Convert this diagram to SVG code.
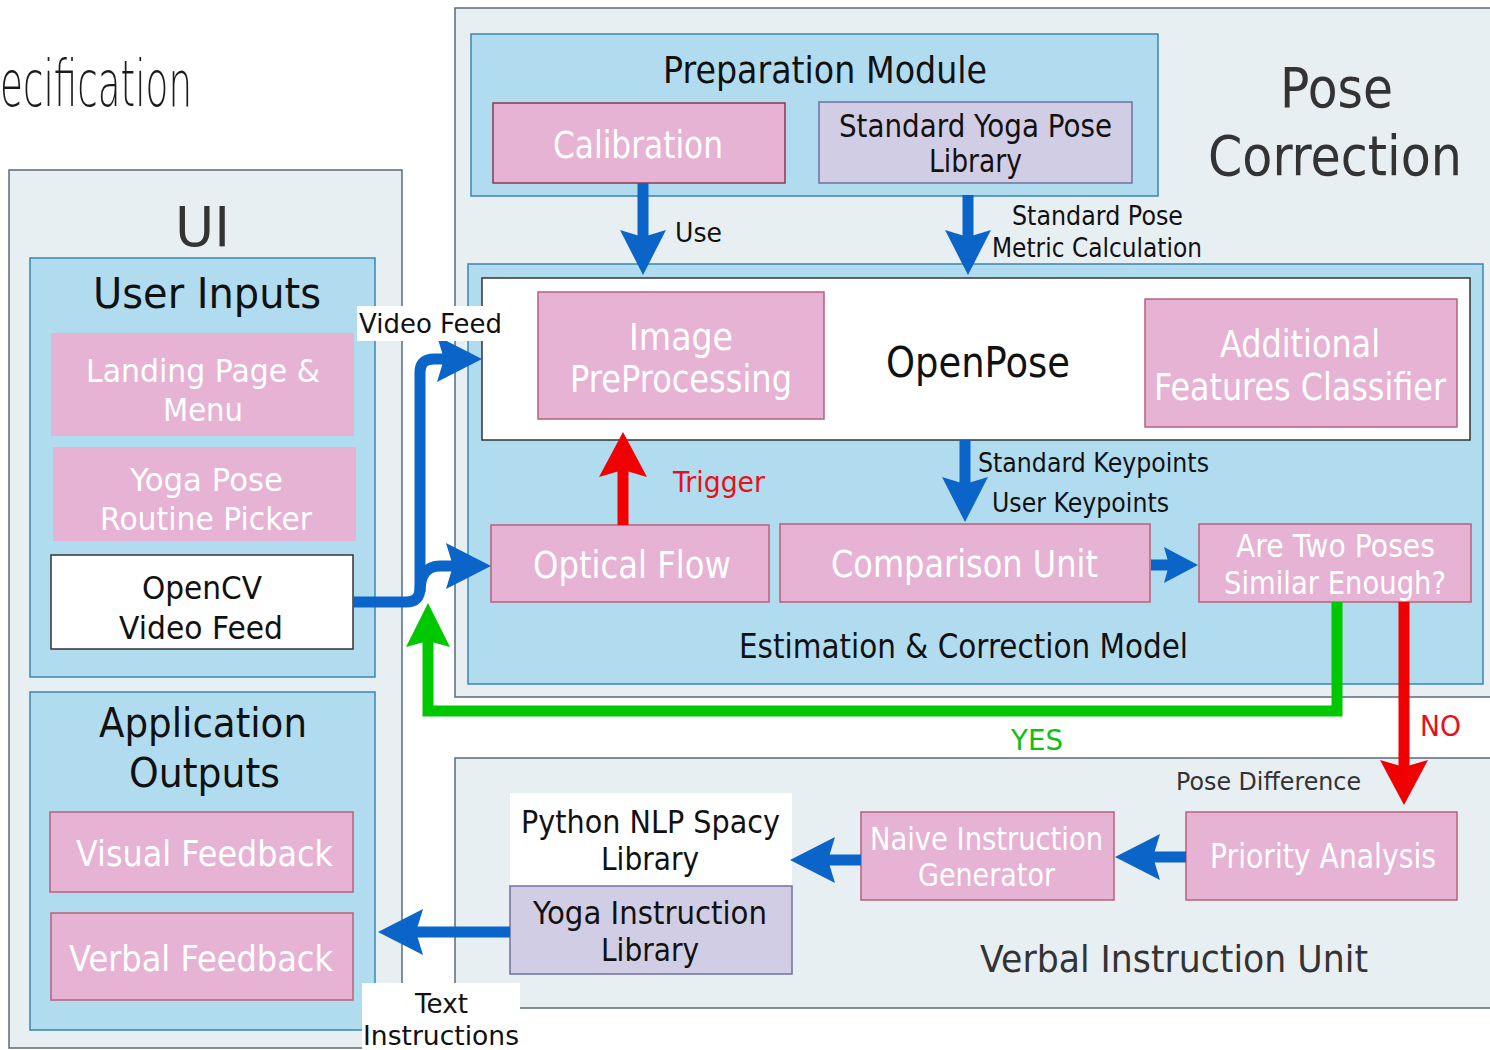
<svg xmlns="http://www.w3.org/2000/svg" width="1490" height="1050" viewBox="0 0 1490 1050">
<style>
text{font-family:'DejaVu Sans','Liberation Sans',sans-serif;fill:#111}
.cond{font-family:'DejaVu Sans Condensed','DejaVu Sans',sans-serif;font-stretch:condensed}
.gray{fill:#e8eff3;stroke:#5b6b78;stroke-width:1.5}
.blue{fill:#b1dcef;stroke:#3b86b0;stroke-width:1.5}
.pink{fill:#e6b3d4;stroke:#b8607a;stroke-width:1.5}
.pinkn{fill:#e6b3d4;stroke:none}
.lav{fill:#d1cde4;stroke:#7070a0;stroke-width:1.5}
.white{fill:#fff;stroke:#333;stroke-width:1.5}
.wt{fill:#fff}
.dk{fill:#333}
.cb{fill:none;stroke:#0b64c8;stroke-width:11}
.cr{fill:none;stroke:#f00000;stroke-width:11}
.cg{fill:none;stroke:#00c800;stroke-width:11}
</style>
<defs>
<marker id="ab" markerUnits="userSpaceOnUse" markerWidth="46" markerHeight="46" refX="7" refY="23" orient="auto"><path d="M0,0 L45,23 L0,46 L7,23 z" fill="#0b64c8"/></marker>
<marker id="abs" markerUnits="userSpaceOnUse" markerWidth="36" markerHeight="36" refX="5" refY="18" orient="auto"><path d="M0,0 L34,18 L0,36 L5,18 z" fill="#0b64c8"/></marker>
<marker id="ar" markerUnits="userSpaceOnUse" markerWidth="48" markerHeight="48" refX="7" refY="24" orient="auto"><path d="M0,0 L45,24 L0,48 L7,24 z" fill="#f00000"/></marker>
<marker id="ag" markerUnits="userSpaceOnUse" markerWidth="44" markerHeight="44" refX="6" refY="22" orient="auto"><path d="M0,0 L44,22 L0,44 L6,22 z" fill="#00c800"/></marker>
</defs>
<rect width="1490" height="1050" fill="#fff"/>
<text x="0" y="106" font-size="64" font-weight="200" textLength="192" lengthAdjust="spacingAndGlyphs" style="fill:#1a1a1a">ecification</text>

<g id="ui">
<rect class="gray" x="9" y="170" width="393" height="878"/>
<text class="dk" x="175" y="246" font-size="56" textLength="55" lengthAdjust="spacingAndGlyphs">UI</text>
</g>
<g id="user-inputs">
<rect class="blue" x="30" y="258" width="345" height="419"/>
<text x="93" y="308" font-size="42" textLength="228" lengthAdjust="spacingAndGlyphs">User Inputs</text>
</g>
<g id="landing">
<rect class="pinkn" x="51" y="333" width="303" height="103"/>
<text class="wt" x="86" y="382" font-size="32" textLength="234" lengthAdjust="spacingAndGlyphs">Landing Page &amp;</text>
<text class="wt" x="163" y="421" font-size="32" textLength="80" lengthAdjust="spacingAndGlyphs">Menu</text>
</g>
<g id="routine-picker">
<rect class="pinkn" x="53" y="447" width="303" height="94"/>
<text class="wt" x="130" y="491" font-size="32" textLength="153" lengthAdjust="spacingAndGlyphs">Yoga Pose</text>
<text class="wt" x="100" y="530" font-size="32" textLength="212" lengthAdjust="spacingAndGlyphs">Routine Picker</text>
</g>
<g id="opencv">
<rect class="white" x="51" y="555" width="302" height="94"/>
<text x="142" y="599" font-size="32" textLength="120" lengthAdjust="spacingAndGlyphs">OpenCV</text>
<text x="119" y="639" font-size="32" textLength="164" lengthAdjust="spacingAndGlyphs">Video Feed</text>
</g>
<g id="app-outputs">
<rect class="blue" x="30" y="692" width="345" height="338"/>
<text x="99" y="737" font-size="41" textLength="208" lengthAdjust="spacingAndGlyphs">Application</text>
<text x="129" y="787" font-size="41" textLength="151" lengthAdjust="spacingAndGlyphs">Outputs</text>
</g>
<g id="visual-feedback">
<rect class="pink" x="50" y="812" width="303" height="80"/>
<text class="wt" x="76" y="866" font-size="36" textLength="257" lengthAdjust="spacingAndGlyphs">Visual Feedback</text>
</g>
<g id="verbal-feedback">
<rect class="pink" x="51" y="913" width="302" height="87"/>
<text class="wt" x="69" y="971" font-size="36" textLength="264" lengthAdjust="spacingAndGlyphs">Verbal Feedback</text>
</g>

<g id="pose-correction">
<rect class="gray" x="455" y="8" width="1045" height="689"/>
<text class="dk" x="1280" y="107" font-size="56" textLength="113" lengthAdjust="spacingAndGlyphs">Pose</text>
<text class="dk cond" x="1208" y="175" font-size="56" textLength="254" lengthAdjust="spacingAndGlyphs">Correction</text>
</g>
<g id="preparation">
<rect class="blue" x="471" y="34" width="687" height="162"/>
<text x="663" y="83" font-size="38" textLength="324" lengthAdjust="spacingAndGlyphs">Preparation Module</text>
</g>
<g id="calibration">
<rect class="pink" x="493" y="103" width="292" height="80" style="stroke:#8b3a4a"/>
<text class="wt" x="553" y="158" font-size="37" textLength="170" lengthAdjust="spacingAndGlyphs">Calibration</text>
</g>
<g id="std-library">
<rect class="lav" x="819" y="102" width="313" height="81"/>
<text x="839" y="137" font-size="32" textLength="273" lengthAdjust="spacingAndGlyphs">Standard Yoga Pose</text>
<text x="929" y="172" font-size="32" textLength="93" lengthAdjust="spacingAndGlyphs">Library</text>
</g>
<g id="estimation">
<rect class="blue" x="468" y="264" width="1015" height="420"/>
<text x="739" y="658" font-size="34" textLength="449" lengthAdjust="spacingAndGlyphs">Estimation &amp; Correction Model</text>
</g>
<g id="openpose">
<rect class="white" x="482" y="278" width="988" height="162"/>
<text x="886" y="377" font-size="42" textLength="184" lengthAdjust="spacingAndGlyphs">OpenPose</text>
</g>
<g id="image-preprocessing">
<rect class="pink" x="538" y="292" width="286" height="127"/>
<text class="wt" x="629" y="350" font-size="37" textLength="104" lengthAdjust="spacingAndGlyphs">Image</text>
<text class="wt" x="570" y="392" font-size="37" textLength="222" lengthAdjust="spacingAndGlyphs">PreProcessing</text>
</g>
<g id="additional-features">
<rect class="pink" x="1145" y="299" width="312" height="128"/>
<text class="wt" x="1220" y="357" font-size="37" textLength="160" lengthAdjust="spacingAndGlyphs">Additional</text>
<text class="wt cond" x="1154" y="400" font-size="37" textLength="292" lengthAdjust="spacingAndGlyphs">Features Classifier</text>
</g>
<g id="optical-flow">
<rect class="pink" x="491" y="525" width="278" height="77"/>
<text class="wt" x="533" y="578" font-size="37" textLength="198" lengthAdjust="spacingAndGlyphs">Optical Flow</text>
</g>
<g id="comparison">
<rect class="pink" x="780" y="524" width="370" height="78"/>
<text class="wt" x="831" y="577" font-size="37" textLength="267" lengthAdjust="spacingAndGlyphs">Comparison Unit</text>
</g>
<g id="similar">
<rect class="pink" x="1199" y="524" width="272" height="78"/>
<text class="wt" x="1236" y="557" font-size="32" textLength="199" lengthAdjust="spacingAndGlyphs">Are Two Poses</text>
<text class="wt" x="1224" y="594" font-size="32" textLength="222" lengthAdjust="spacingAndGlyphs">Similar Enough?</text>
</g>

<g id="verbal-unit">
<rect class="gray" x="455" y="758" width="1045" height="250"/>
<text class="dk" x="980" y="972" font-size="38" textLength="388" lengthAdjust="spacingAndGlyphs">Verbal Instruction Unit</text>
</g>
<g id="priority">
<rect class="pink" x="1186" y="812" width="271" height="88"/>
<text class="wt" x="1210" y="868" font-size="34" textLength="226" lengthAdjust="spacingAndGlyphs">Priority Analysis</text>
</g>
<g id="naive">
<rect class="pink" x="861" y="812" width="253" height="88"/>
<text class="wt" x="870" y="850" font-size="32" textLength="233" lengthAdjust="spacingAndGlyphs">Naive Instruction</text>
<text class="wt" x="918" y="886" font-size="32" textLength="137" lengthAdjust="spacingAndGlyphs">Generator</text>
</g>
<g id="spacy">
<rect x="510" y="793" width="282" height="93" fill="#fff"/>
<text x="521" y="833" font-size="32" textLength="259" lengthAdjust="spacingAndGlyphs">Python NLP Spacy</text>
<text x="601" y="870" font-size="32" textLength="98" lengthAdjust="spacingAndGlyphs">Library</text>
</g>
<g id="yoga-instruction">
<rect class="lav" x="510" y="886" width="282" height="88"/>
<text x="533" y="924" font-size="32" textLength="234" lengthAdjust="spacingAndGlyphs">Yoga Instruction</text>
<text x="601" y="961" font-size="32" textLength="98" lengthAdjust="spacingAndGlyphs">Library</text>
</g>

<g id="connectors">
<path class="cb" d="M643,183 V237" marker-end="url(#ab)"/>
<path class="cb" d="M968,195 V237" marker-end="url(#ab)"/>
<path class="cb" d="M965,440 V484" marker-end="url(#ab)"/>
<path class="cb" d="M1151,565 H1169" marker-end="url(#abs)"/>
<path class="cb" d="M1186,857 H1153" marker-end="url(#ab)"/>
<path class="cb" d="M861,860 H828" marker-end="url(#ab)"/>
<path class="cb" d="M510,932 H416" marker-end="url(#ab)"/>
<path class="cb" d="M353,602 H406 Q420,602 420,588 V372 Q420,359 434,359 H444" marker-end="url(#ab)"/>
<path class="cb" d="M420,592 Q420,566 440,566 H453" marker-end="url(#ab)"/>
<path class="cr" d="M623,525 V470" marker-end="url(#ar)"/>
<path class="cr" d="M1404,602 V767" marker-end="url(#ar)"/>
<path class="cg" d="M1337,602 V711 H428 V641" marker-end="url(#ag)"/>

<text x="675" y="242" font-size="27" textLength="47" lengthAdjust="spacingAndGlyphs">Use</text>
<text x="1012" y="225" font-size="26" textLength="171" lengthAdjust="spacingAndGlyphs">Standard Pose</text>
<text x="992" y="257" font-size="26" textLength="210" lengthAdjust="spacingAndGlyphs">Metric Calculation</text>
<text x="978" y="472" font-size="26" textLength="231" lengthAdjust="spacingAndGlyphs">Standard Keypoints</text>
<text x="992" y="512" font-size="26" textLength="177" lengthAdjust="spacingAndGlyphs">User Keypoints</text>
<text x="673" y="492" font-size="29" textLength="92" lengthAdjust="spacingAndGlyphs" style="fill:#e8101a">Trigger</text>
<text x="1011" y="750" font-size="29" textLength="52" lengthAdjust="spacingAndGlyphs" style="fill:#10c010">YES</text>
<text x="1420" y="736" font-size="29" textLength="41" lengthAdjust="spacingAndGlyphs" style="fill:#e8101a">NO</text>
<text class="dk" x="1176" y="790" font-size="25" textLength="185" lengthAdjust="spacingAndGlyphs">Pose Difference</text>
<rect x="357" y="306" width="146" height="35" fill="#fff"/>
<text x="359" y="333" font-size="27" textLength="143" lengthAdjust="spacingAndGlyphs">Video Feed</text>
<rect x="362" y="983" width="158" height="67" fill="#fff"/>
<text x="415" y="1013" font-size="27" textLength="53" lengthAdjust="spacingAndGlyphs">Text</text>
<text x="363" y="1045" font-size="27" textLength="156" lengthAdjust="spacingAndGlyphs">Instructions</text>
</g>
</svg>
